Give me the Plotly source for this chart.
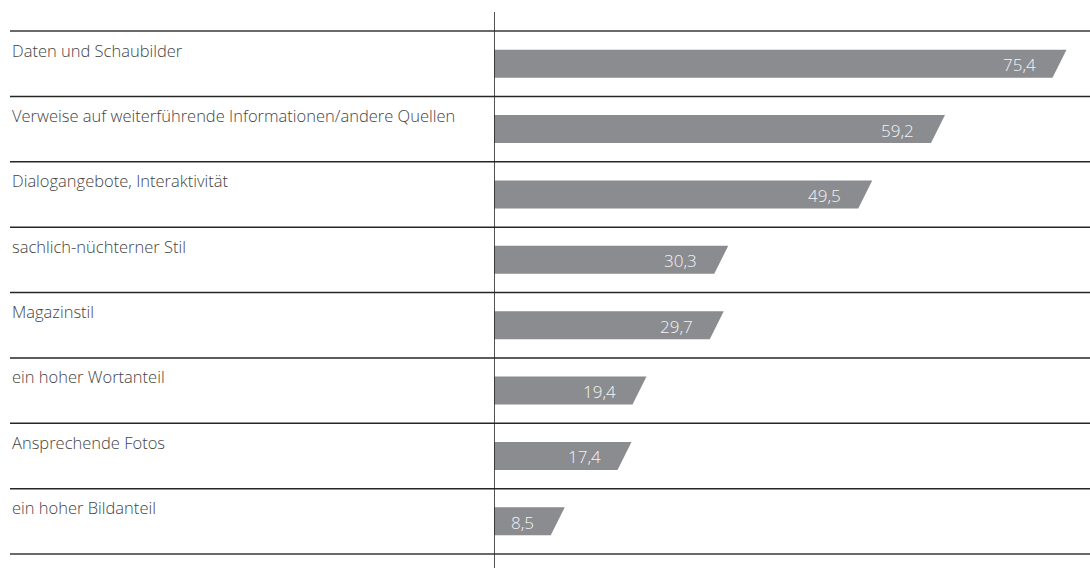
import plotly.graph_objects as go

categories = [
    "Daten und Schaubilder",
    "Verweise auf weiterführende Informationen/andere Quellen",
    "Dialogangebote, Interaktivität",
    "sachlich-nüchterner Stil",
    "Magazinstil",
    "ein hoher Wortanteil",
    "Ansprechende Fotos",
    "ein hoher Bildanteil",
]
values = [75.4, 59.2, 49.5, 30.3, 29.7, 19.4, 17.4, 8.5]
value_labels = ["75,4", "59,2", "49,5", "30,3", "29,7", "19,4", "17,4", "8,5"]

W, H = 1090, 568
ROW_PX = 65.375          # row height in pixels
TOP_LINE_PX = 31         # first separator line
X0_PX = 494              # pixel position of the zero line
PX_PER_UNIT = 7.5
SLANT_PX = 7.0
HALF_BAR = 14.0 / ROW_PX

n = len(categories)
x_max = (W - X0_PX) / PX_PER_UNIT
d = SLANT_PX / PX_PER_UNIT
y_top = -0.5 - TOP_LINE_PX / ROW_PX
y_bot = n - 0.5 + (H - (TOP_LINE_PX + n * ROW_PX)) / ROW_PX
label_x = (10 - X0_PX) / (W - X0_PX)

FONT = "Open Sans, Lato, sans-serif"
BAR_COLOR = "#8b8c90"

xs, ys = [], []
for i, v in enumerate(values):
    xs += [0, v + d, v - d, 0, 0, None]
    ys += [i - HALF_BAR, i - HALF_BAR, i + HALF_BAR, i + HALF_BAR, i - HALF_BAR, None]

fig = go.Figure()
fig.add_trace(go.Scatter(
    x=xs, y=ys, mode="lines", fill="toself",
    fillcolor=BAR_COLOR, line=dict(width=0, color=BAR_COLOR),
    hoverinfo="skip", showlegend=False,
))

shapes = []
for k in range(n + 1):
    edge = k in (0, n)
    shapes.append(dict(
        type="line", xref="paper", yref="y",
        x0=label_x, x1=1,
        y0=k - 0.5, y1=k - 0.5,
        line=dict(color="#6a6a6a" if edge else "#262626", width=2 if edge else 1.5),
    ))
shapes.append(dict(
    type="line", xref="x", yref="y",
    x0=0, x1=0, y0=-0.5 - 19 / ROW_PX, y1=y_bot,
    line=dict(color="#262626", width=1.6),
))

annotations = []
for i, (c, v, lab) in enumerate(zip(categories, values, value_labels)):
    annotations.append(dict(
        xref="paper", yref="y", x=label_x, y=i - 0.5 + 19 / ROW_PX,
        text=c, showarrow=False, xanchor="left", yanchor="middle",
        font=dict(family=FONT, size=16.5, color="#444444", weight=300),
    ))
    annotations.append(dict(
        xref="x", yref="y", x=v, y=i,
        text=lab, showarrow=False, xanchor="right", yanchor="middle",
        xshift=-22, yshift=-1,
        font=dict(family=FONT, size=17, color="#f4f4f4", weight=300),
    ))

fig.update_layout(
    width=W, height=H,
    margin=dict(l=X0_PX, r=0, t=0, b=0),
    paper_bgcolor="white", plot_bgcolor="white",
    xaxis=dict(range=[0, x_max], visible=False, fixedrange=True),
    yaxis=dict(range=[y_bot, y_top], visible=False, fixedrange=True),
    shapes=shapes, annotations=annotations,
    showlegend=False,
)

fig.write_html(
    "out.html",
    config={"displayModeBar": False},
    post_script="document.body.style.margin='0';document.body.style.overflow='hidden';",
)
